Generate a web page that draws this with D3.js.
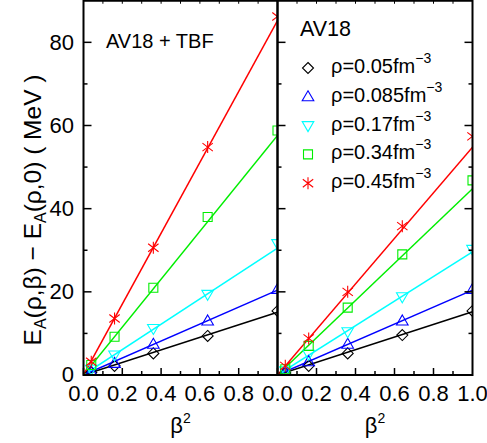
<!DOCTYPE html>
<html><head><meta charset="utf-8">
<script src="https://cdn.jsdelivr.net/npm/d3@7"></script>
<style>
html,body{margin:0;padding:0;background:#fff;}
text{font-family:"Liberation Sans",Arial,sans-serif;fill:#000;}
</style></head>
<body><svg id="c" width="487" height="443"></svg>
<script>
// ---- data ----
const beta2 = [0.04, 0.16, 0.36, 0.64, 1.0];
const densityLabels = ["0.05", "0.085", "0.17", "0.34", "0.45"];
const colors = ["#000000", "#0000ff", "#00ffff", "#00ee00", "#ff0000"];
const symbols = ["diamond", "triUp", "triDown", "square", "star"];
// AV18 + TBF (left panel)
const tbf005 = [0.6, 2.2, 5.2, 9.4, 15.4];
const tbf0085 = [0.8, 2.8, 7.4, 13.0, 20.6];
const tbf017 = [1.4, 4.8, 11.2, 19.4, 31.6];
const tbf034 = [2.4, 9.2, 21.0, 38.0, 58.8];
const tbf045 = [3.2, 13.6, 30.6, 54.8, 86.2];
const tbfSlopes = [15.1, 20.4, 30.5, 57.6, 85.2];
// AV18 (right panel)
const av005 = [0.5, 2.2, 5.2, 9.6, 15.4];
const av0085 = [0.6, 3.2, 7.4, 13.0, 20.6];
const av017 = [1.0, 5.0, 10.4, 18.8, 30.2];
const av034 = [1.4, 7.0, 16.2, 29.0, 46.8];
const av045 = [2.2, 8.8, 20.0, 35.8, 57.4];
const avSlopes = [15.2, 20.4, 29.6, 44.8, 54.8];
const xTicksLeft = [0.0, 0.2, 0.4, 0.6, 0.8];
const xTicksRight = [0.0, 0.2, 0.4, 0.6, 0.8, 1.0];
const yTicks = [0, 20, 40, 60, 80];

const svg = d3.select("#c");
const yTop = 0.75, yBot = 375;
const y = d3.scaleLinear().domain([0, 90]).range([yBot, yTop]);
const panels = [
  {x0: 83.5, x1: 277.5, series: [tbf005, tbf0085, tbf017, tbf034, tbf045], slopes: tbfSlopes, title: "AV18 + TBF", ticks: xTicksLeft, id: "L"},
  {x0: 277.5, x1: 472.5, series: [av005, av0085, av017, av034, av045], slopes: avSlopes, title: "AV18", ticks: xTicksRight, id: "R"}
];

function marker(g, type, cx, cy, color) {
  const s = 5.5;
  let p;
  if (type === "diamond") p = `M${cx},${cy-s}L${cx+s},${cy}L${cx},${cy+s}L${cx-s},${cy}Z`;
  else if (type === "triUp") p = `M${cx},${cy-6}L${cx+5.8},${cy+4}L${cx-5.8},${cy+4}Z`;
  else if (type === "triDown") p = `M${cx},${cy+6}L${cx+5.8},${cy-4}L${cx-5.8},${cy-4}Z`;
  else if (type === "square") p = `M${cx-4.5},${cy-4.5}h9v9h-9Z`;
  else p = `M${cx},${cy-6}V${cy+6}M${cx-5.2},${cy-4}L${cx+5.2},${cy+4}M${cx-5.2},${cy+4}L${cx+5.2},${cy-4}`;
  g.append("path").attr("d", p).attr("fill", "none").attr("stroke", color).attr("stroke-width", 1.1);
}

const defs = svg.append("defs");
panels.forEach((P, pi) => {
  const x = d3.scaleLinear().domain([0, 1]).range([P.x0, P.x1]);
  defs.append("clipPath").attr("id", "clip" + P.id)
    .append("rect").attr("x", P.x0).attr("y", yTop).attr("width", P.x1 - P.x0).attr("height", yBot - yTop);
  const g = svg.append("g").attr("clip-path", `url(#clip${P.id})`);
  const line = d3.line().x(d => x(d[0])).y(d => y(d[1]));
  P.series.forEach((vals, si) => {
    g.append("path").attr("d", line([[0, 0], [1, P.slopes[si]]]))
      .attr("fill", "none").attr("stroke", colors[si]).attr("stroke-width", 1.5);
  });
  P.series.forEach((vals, si) => {
    vals.forEach((v, i) => marker(g, symbols[si], x(beta2[i]), y(v), colors[si]));
  });
  const minor = d3.range(0, 10).map(d => d / 10);
  const ax = svg.append("g");
  minor.forEach(t => {
    const major = Math.abs(t * 5 - Math.round(t * 5)) < 1e-6;
    const len = major ? 7 : 4;
    ax.append("line").attr("x1", x(t)).attr("x2", x(t)).attr("y1", yBot).attr("y2", yBot - len).attr("stroke", "#000").attr("stroke-width", 1.5);
    ax.append("line").attr("x1", x(t)).attr("x2", x(t)).attr("y1", yTop).attr("y2", yTop + 3).attr("stroke", "#000").attr("stroke-width", 1);
  });
  P.ticks.forEach(t => {
    ax.append("text").attr("x", x(t)).attr("y", 401).attr("text-anchor", "middle")
      .attr("font-size", 22).text(d3.format(".1f")(t));
  });
  d3.range(0, 90, 10).forEach(v => {
    const len = v % 20 === 0 ? 8 : 4;
    ax.append("line").attr("x1", P.x0).attr("x2", P.x0 + len).attr("y1", y(v)).attr("y2", y(v)).attr("stroke", "#000").attr("stroke-width", 1.5);
    if (pi === 1) ax.append("line").attr("x1", P.x1).attr("x2", P.x1 - len).attr("y1", y(v)).attr("y2", y(v)).attr("stroke", "#000").attr("stroke-width", 1.5);
  });
  ax.append("rect").attr("x", P.x0).attr("y", yTop).attr("width", P.x1 - P.x0).attr("height", yBot - yTop)
    .attr("fill", "none").attr("stroke", "#000").attr("stroke-width", 2);
  const xl = ax.append("text").attr("x", (P.x0 + P.x1) / 2).attr("y", 433).attr("text-anchor", "middle").attr("font-size", 22);
  xl.append("tspan").text("β");
  xl.append("tspan").attr("font-size", 14).attr("dy", -10).text("2");
  ax.append("text").attr("x", pi === 0 ? 106 : 300).attr("y", pi === 0 ? 48 : 36).attr("font-size", pi === 0 ? 20 : 21.5).text(P.title);
});

yTicks.forEach(v => {
  svg.append("text").attr("x", 74).attr("y", y(v)).attr("dy", "0.34em").attr("text-anchor", "end").attr("font-size", 22).text(v);
});

const yl = svg.append("text").attr("transform", "translate(41,210) rotate(-90)").attr("text-anchor", "middle").attr("font-size", 24.5);
yl.append("tspan").text("E");
yl.append("tspan").attr("font-size", 16).attr("dy", 5).text("A");
yl.append("tspan").attr("dy", -5).text("(ρ,β) − E");
yl.append("tspan").attr("font-size", 16).attr("dy", 5).text("A");
yl.append("tspan").attr("dy", -5).text("(ρ,0) ( MeV )");

const lg = svg.append("g");
densityLabels.forEach((lab, i) => {
  const cy = 68 + i * 28.8;
  marker(lg, symbols[i], 308, cy, colors[i]);
  const t = lg.append("text").attr("x", 331).attr("y", cy + 5).attr("font-size", 20);
  t.append("tspan").text("ρ=" + lab + "fm");
  t.append("tspan").attr("font-size", 14).attr("dy", -10).text("−3");
});
</script></body></html>
